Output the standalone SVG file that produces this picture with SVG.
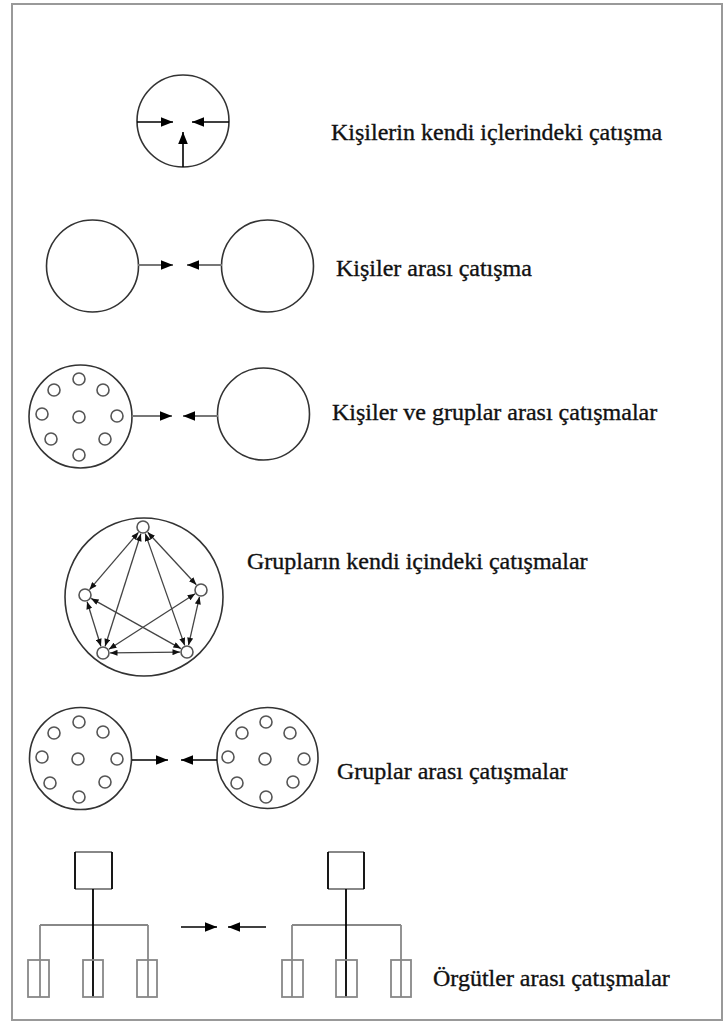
<svg xmlns="http://www.w3.org/2000/svg" width="725" height="1021" viewBox="0 0 725 1021">
<style>
.lbl{font-family:"Liberation Serif","Times New Roman",serif;font-size:24px;fill:#111;stroke:#111;stroke-width:0.35}
.big{fill:none;stroke:#333;stroke-width:1.6}
.sm{fill:#fff;stroke:#555;stroke-width:1.6}
.ab{stroke:#000;stroke-width:1.6;fill:none}
.ag{stroke:#777;stroke-width:2;fill:none}
.pe{stroke:#444;stroke-width:1.3;fill:none}
.gr{stroke:#888;stroke-width:1.8;fill:none}
.bk{stroke:#000;stroke-width:1.8;fill:none}
</style>
<defs>
<marker id="ah" viewBox="0 0 10 8" refX="10" refY="4" markerWidth="12" markerHeight="10" orient="auto" markerUnits="userSpaceOnUse"><path d="M0,0 L10,4 L0,8 z" fill="#000"/></marker>
<marker id="as" viewBox="0 0 10 8" refX="10" refY="4" markerWidth="8" markerHeight="6" orient="auto-start-reverse" markerUnits="userSpaceOnUse"><path d="M0,0 L10,4 L0,8 z" fill="#111"/></marker>
</defs>
<rect x="12" y="4" width="710" height="1016" fill="#fff" stroke="#999" stroke-width="2"/>

<g id="n1">
<circle class="big" cx="183" cy="121" r="46"/>
<text class="lbl" x="331" y="140">Kişilerin kendi içlerindeki çatışma</text>
</g>
<g id="n2">
<circle class="big" cx="92.5" cy="266" r="46"/>
<circle class="big" cx="267.5" cy="266" r="46"/>
<text class="lbl" x="336" y="276">Kişiler arası çatışma</text>
</g>
<g id="n3">
<circle class="big" cx="80.5" cy="416.5" r="51.5"/>
<circle class="sm" cx="79" cy="379" r="6"/><circle class="sm" cx="54" cy="390" r="6"/><circle class="sm" cx="103" cy="390" r="6"/>
<circle class="sm" cx="42" cy="414" r="6"/><circle class="sm" cx="79" cy="417" r="6"/><circle class="sm" cx="117" cy="416" r="6"/>
<circle class="sm" cx="51" cy="439" r="6"/><circle class="sm" cx="105" cy="439" r="6"/><circle class="sm" cx="79" cy="455" r="6"/>
<circle class="big" cx="263.5" cy="414" r="46"/>
<text class="lbl" x="332" y="420">Kişiler ve gruplar arası çatışmalar</text>
</g>
<g id="n4">
<circle class="big" cx="144" cy="597" r="79"/>
<circle class="sm" cx="143" cy="527" r="6"/>
<circle class="sm" cx="85" cy="595" r="6"/>
<circle class="sm" cx="201" cy="590" r="6"/>
<circle class="sm" cx="103" cy="653" r="6"/>
<circle class="sm" cx="187" cy="652" r="6"/>
<text class="lbl" x="247" y="569">Grupların kendi içindeki çatışmalar</text>
</g>
<g id="n5">
<circle class="big" cx="80.5" cy="758.5" r="51"/>
<circle class="sm" cx="79" cy="722" r="6"/><circle class="sm" cx="54" cy="733" r="6"/><circle class="sm" cx="103" cy="732" r="6"/>
<circle class="sm" cx="42" cy="757" r="6"/><circle class="sm" cx="78" cy="759" r="6"/><circle class="sm" cx="117" cy="759" r="6"/>
<circle class="sm" cx="50" cy="783" r="6"/><circle class="sm" cx="105" cy="782" r="6"/><circle class="sm" cx="79" cy="797" r="6"/>
<circle class="big" cx="267.5" cy="758" r="50.5"/>
<circle class="sm" cx="266" cy="722" r="6"/><circle class="sm" cx="242" cy="733" r="6"/><circle class="sm" cx="290" cy="733" r="6"/>
<circle class="sm" cx="228" cy="757" r="6"/><circle class="sm" cx="265" cy="759" r="6"/><circle class="sm" cx="304" cy="759" r="6"/>
<circle class="sm" cx="237" cy="783" r="6"/><circle class="sm" cx="293" cy="782" r="6"/><circle class="sm" cx="266" cy="797" r="6"/>
<text class="lbl" x="337" y="779">Gruplar arası çatışmalar</text>
</g>
<g id="n6">
<path class="gr" d="M75,852 H112 M75,889 H112 M40,925 H148 M40,925 V997 M148,925 V997"/>
<path class="bk" d="M75,852 V889 M112,852 V889 M93,889 V997"/>
<rect class="gr" x="28" y="960" width="21" height="37"/>
<rect class="gr" x="83" y="960" width="20" height="37"/>
<rect class="gr" x="137" y="960" width="20" height="37"/>
<path class="gr" d="M328,852 H364 M328,889 H364 M292,925 H401 M292,925 V997 M401,925 V997"/>
<path class="bk" d="M328,852 V889 M364,852 V889 M346,889 V997"/>
<rect class="gr" x="282" y="960" width="21" height="37"/>
<rect class="gr" x="336" y="960" width="21" height="37"/>
<rect class="gr" x="391" y="960" width="20" height="37"/>
<text class="lbl" x="433" y="986">Örgütler arası çatışmalar</text>
</g>

<g id="connectors">
<line class="ab" x1="137" y1="122" x2="173" y2="122" marker-end="url(#ah)"/>
<line class="ab" x1="229" y1="122" x2="192" y2="122" marker-end="url(#ah)"/>
<line class="ab" x1="183" y1="167" x2="183" y2="132" marker-end="url(#ah)"/>
<line class="ag" x1="138" y1="265" x2="173" y2="265" marker-end="url(#ah)"/>
<line class="ag" x1="222" y1="265" x2="187" y2="265" marker-end="url(#ah)"/>
<line class="ag" x1="132" y1="416" x2="172" y2="416" marker-end="url(#ah)"/>
<line class="ag" x1="218" y1="416" x2="183" y2="416" marker-end="url(#ah)"/>
<line class="pe" x1="138.5" y1="532.3" x2="89.5" y2="589.7" marker-start="url(#as)" marker-end="url(#as)"/>
<line class="pe" x1="147.7" y1="532.2" x2="196.3" y2="584.8" marker-start="url(#as)" marker-end="url(#as)"/>
<line class="pe" x1="140.9" y1="533.7" x2="105.1" y2="646.3" marker-start="url(#as)" marker-end="url(#as)"/>
<line class="pe" x1="145.3" y1="533.6" x2="184.7" y2="645.4" marker-start="url(#as)" marker-end="url(#as)"/>
<line class="pe" x1="87.1" y1="601.7" x2="100.9" y2="646.3" marker-start="url(#as)" marker-end="url(#as)"/>
<line class="pe" x1="91.1" y1="598.4" x2="180.9" y2="648.6" marker-start="url(#as)" marker-end="url(#as)"/>
<line class="pe" x1="195.1" y1="593.8" x2="108.9" y2="649.2" marker-start="url(#as)" marker-end="url(#as)"/>
<line class="pe" x1="199.5" y1="596.8" x2="188.5" y2="645.2" marker-start="url(#as)" marker-end="url(#as)"/>
<line class="pe" x1="110" y1="652.9" x2="180" y2="652.1" marker-start="url(#as)" marker-end="url(#as)"/>
<line class="ab" x1="132" y1="760" x2="168" y2="760" marker-end="url(#ah)"/>
<line class="ab" x1="217" y1="760" x2="181" y2="760" marker-end="url(#ah)"/>
<line class="ab" x1="181" y1="927" x2="217" y2="927" marker-end="url(#ah)"/>
<line class="ab" x1="266" y1="927" x2="228" y2="927" marker-end="url(#ah)"/>
</g>
</svg>
